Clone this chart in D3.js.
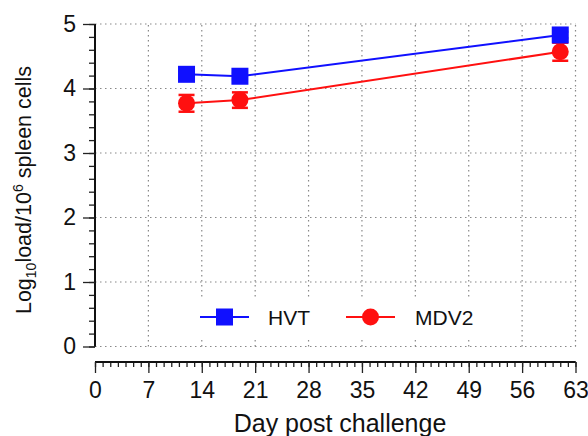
<!DOCTYPE html>
<html>
<head>
<meta charset="utf-8">
<script src="https://cdn.jsdelivr.net/npm/d3@7"></script>
<style>
  html, body { margin: 0; padding: 0; background: #ffffff; }
  svg { display: block; font-family: "Liberation Sans", Arial, sans-serif; }
</style>
</head>
<body>
<svg id="chart" width="588" height="436"></svg>
<script>
// Viral load in spleen after challenge, by vaccine group
const days = [12, 19, 61];
const hvtLoad = [4.22, 4.19, 4.83];
const hvtErr = [0.05, 0.05, 0.05];
const mdv2Load = [3.77, 3.82, 4.57];
const mdv2Err = [0.13, 0.12, 0.14];
const seriesNames = ["HVT", "MDV2"];
const seriesColors = ["#1010ff", "#ff1010"];
const xTicks = [0, 7, 14, 21, 28, 35, 42, 49, 56, 63];
const yTicks = [0, 1, 2, 3, 4, 5];

const svg = d3.select("#chart");

const x = d3.scaleLinear().domain([0, 63]).range([95, 575.5]);
const y = d3.scaleLinear().domain([0, 5]).range([346.5, 24]);

// dotted grid
const grid = svg.append("g").attr("stroke", "#888").attr("stroke-width", 1.2)
  .attr("stroke-dasharray", "1.5,3.5");
grid.selectAll("line.h").data(yTicks).join("line")
  .attr("x1", x(0)).attr("x2", x(63))
  .attr("y1", d => y(d)).attr("y2", d => y(d));
grid.selectAll("line.v").data(xTicks.filter(d => d > 0)).join("line")
  .attr("y1", y(0)).attr("y2", y(5))
  .attr("x1", d => x(d)).attr("x2", d => x(d));

// y axis with minor ticks
const yAxis = svg.append("g").attr("transform", `translate(${x(0)},0)`);
yAxis.call(d3.axisLeft(y).tickValues(d3.range(0, 5.0001, 0.2)).tickSize(6).tickFormat(""));
yAxis.append("g").call(d3.axisLeft(y).tickValues(yTicks).tickSize(12).tickPadding(7).tickFormat(d3.format("d")));
yAxis.selectAll("path.domain").attr("stroke-width", 2).attr("stroke", "#111");
yAxis.selectAll(".tick line").attr("stroke", "#222").attr("stroke-width", 1.3);
yAxis.selectAll(".tick text").attr("font-size", 23).attr("fill", "#111")
  .attr("font-family", "Liberation Sans, Arial, sans-serif");
yAxis.selectAll("path.domain").attr("d", `M0,${y(5)}V${y(0)}`);

// x axis detached below the plot
const xAxisY = 362;
const xAxis = svg.append("g").attr("transform", `translate(0,${xAxisY})`);
xAxis.call(d3.axisBottom(x).tickValues(d3.range(0, 64, 1)).tickSize(5).tickFormat(""));
xAxis.append("g").call(d3.axisBottom(x).tickValues(xTicks).tickSize(11).tickPadding(9).tickFormat(d3.format("d")));
xAxis.selectAll("path.domain").attr("stroke-width", 2).attr("stroke", "#111")
  .attr("d", `M${x(0)},0H${x(63)}`);
xAxis.selectAll(".tick line").attr("stroke", "#222").attr("stroke-width", 1.3);
xAxis.selectAll(".tick text").attr("font-size", 23).attr("fill", "#111")
  .attr("font-family", "Liberation Sans, Arial, sans-serif");

// axis titles
svg.append("text").attr("x", 340).attr("y", 432).attr("text-anchor", "middle")
  .attr("font-size", 25).attr("fill", "#111").text("Day post challenge");

const yTitle = svg.append("text").attr("transform", "translate(31,190) rotate(-90)")
  .attr("text-anchor", "middle").attr("font-size", 21.5).attr("fill", "#111");
yTitle.append("tspan").text("Log");
yTitle.append("tspan").attr("font-size", 14).attr("dy", 5).text("10");
yTitle.append("tspan").attr("dy", -5).text("load/10");
yTitle.append("tspan").attr("font-size", 14).attr("dy", -8).text("6");
yTitle.append("tspan").attr("dy", 8).text(" spleen cells");

// series
const series = [
  { name: seriesNames[0], color: seriesColors[0], vals: hvtLoad, err: hvtErr, shape: "square" },
  { name: seriesNames[1], color: seriesColors[1], vals: mdv2Load, err: mdv2Err, shape: "circle" }
];
const line = d3.line().x(d => x(d[0])).y(d => y(d[1]));

function drawMarker(g, shape, cx, cy, color) {
  if (shape === "square") {
    g.append("rect").attr("x", cx - 8.5).attr("y", cy - 8.5).attr("width", 17).attr("height", 17)
      .attr("fill", color);
  } else {
    g.append("circle").attr("cx", cx).attr("cy", cy).attr("r", 8.5).attr("fill", color);
  }
}

// draw MDV2 first so HVT sits on top
[series[1], series[0]].forEach(s => {
  const pts = days.map((d, i) => [d, s.vals[i], s.err[i]]);
  const g = svg.append("g");
  g.append("path").datum(pts).attr("d", line).attr("fill", "none")
    .attr("stroke", s.color).attr("stroke-width", 2);
  pts.forEach(p => {
    const cx = x(p[0]);
    g.append("line").attr("x1", cx).attr("x2", cx).attr("y1", y(p[1] - p[2])).attr("y2", y(p[1] + p[2]))
      .attr("stroke", s.color).attr("stroke-width", 2);
    [p[1] - p[2], p[1] + p[2]].forEach(v => {
      g.append("line").attr("x1", cx - 8).attr("x2", cx + 8).attr("y1", y(v)).attr("y2", y(v))
        .attr("stroke", s.color).attr("stroke-width", 2.5);
    });
    drawMarker(g, s.shape, cx, y(p[1]), s.color);
  });
});

// legend
const legend = svg.append("g");
legend.append("rect").attr("x", 182).attr("y", 297).attr("width", 330).attr("height", 40).attr("fill", "#fff");
const legendItems = [
  { s: series[0], x0: 200, tx: 268 },
  { s: series[1], x0: 346, tx: 415 }
];
legendItems.forEach(it => {
  const ly = 317;
  legend.append("line").attr("x1", it.x0).attr("x2", it.x0 + 49).attr("y1", ly).attr("y2", ly)
    .attr("stroke", it.s.color).attr("stroke-width", 2);
  drawMarker(legend, it.s.shape, it.x0 + 24.5, ly, it.s.color);
  legend.append("text").attr("x", it.tx).attr("y", ly + 7.5).attr("font-size", 21).attr("fill", "#111")
    .text(it.s.name);
});
</script>
</body>
</html>
